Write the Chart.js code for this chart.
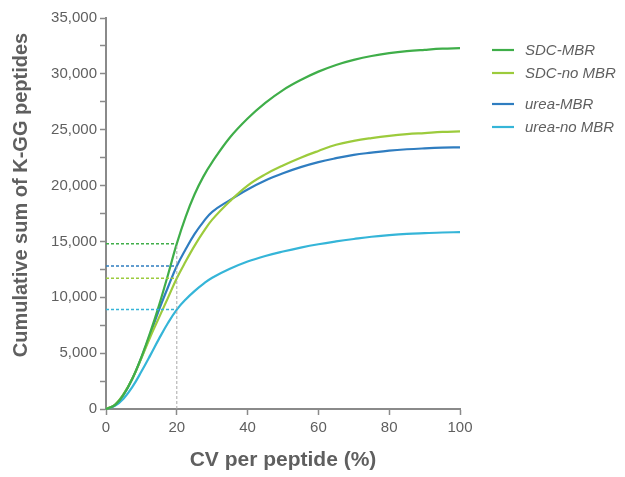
<!DOCTYPE html>
<html>
<head>
<meta charset="utf-8">
<script src="https://cdn.jsdelivr.net/npm/chart.js@4"></script>
<style>
  html, body { margin: 0; padding: 0; background: #fff; }
  #wrap { width: 625px; height: 477px; }
</style>
</head>
<body>
<div id="wrap"><canvas id="cv"></canvas></div>
<script>
const cvValues  = [0, 2.5, 5, 7.5, 10, 12.5, 15, 17.5, 20, 22.5, 25, 27.5, 30, 35, 40, 45, 50, 55, 60, 65, 70, 75, 80, 85, 90, 95, 100];
const sdcMbr    = [0, 350, 1300, 2750, 4650, 6850, 9300, 12000, 14800, 17200, 19200, 20800, 22100, 24300, 26000, 27400, 28550, 29450, 30200, 30800, 31250, 31600, 31850, 32030, 32150, 32250, 32300];
const sdcNoMbr  = [0, 380, 1350, 2750, 4550, 6450, 8200, 9950, 11700, 13200, 14600, 15850, 16950, 18600, 20000, 21000, 21800, 22500, 23100, 23650, 24000, 24250, 24450, 24600, 24700, 24800, 24850];
const ureaMbr   = [0, 350, 1300, 2750, 4600, 6700, 8900, 10900, 12800, 14300, 15650, 16750, 17650, 18700, 19650, 20450, 21100, 21650, 22100, 22450, 22750, 22950, 23130, 23250, 23330, 23390, 23420];
const ureaNoMbr = [0, 280, 950, 2000, 3350, 4800, 6300, 7700, 8900, 9800, 10550, 11200, 11750, 12550, 13200, 13700, 14100, 14450, 14750, 15000, 15220, 15420, 15560, 15670, 15740, 15800, 15830];
const seriesNames = ['SDC-MBR', 'SDC-no MBR', 'urea-MBR', 'urea-no MBR'];
const markCV = 20;

const colors = ['#3fae49', '#9ccb3c', '#2f7dc0', '#35b5d8'];
const allSeries = [sdcMbr, sdcNoMbr, ureaMbr, ureaNoMbr];
const markIdx = cvValues.indexOf(markCV);
const FONT = '"Liberation Sans", Arial, sans-serif';
const GREY = '#5f5f5f';
const AXIS = '#8a8a8a';

const datasets = [];
// dashed guide lines at CV = 20 %
allSeries.forEach(function (s, i) {
  datasets.push({
    data: [{ x: 0, y: s[markIdx] }, { x: markCV, y: s[markIdx] }],
    borderColor: colors[i],
    borderWidth: 1.5,
    borderDash: [3, 2],
    pointRadius: 0
  });
});
datasets.push({
  data: [{ x: markCV, y: 0 }, { x: markCV, y: Math.max.apply(null, allSeries.map(s => s[markIdx])) }],
  borderColor: '#a8a8a8',
  borderWidth: 1,
  borderDash: [3, 2],
  pointRadius: 0
});
allSeries.forEach(function (s, i) {
  datasets.push({
    label: seriesNames[i],
    data: cvValues.map((x, j) => ({ x: x, y: s[j] })),
    borderColor: colors[i],
    borderWidth: 2.2,
    pointRadius: 0,
    tension: 0.4,
    clip: false
  });
});

// legend on the right + rotated y title
const extrasPlugin = {
  id: 'extras',
  afterDraw(chart) {
    const ctx = chart.ctx;
    const rows = [50, 73, 104, 127];
    ctx.save();
    ctx.font = 'italic 15px ' + FONT;
    ctx.textBaseline = 'middle';
    seriesNames.forEach(function (name, i) {
      ctx.strokeStyle = colors[i];
      ctx.lineWidth = 2.2;
      ctx.beginPath();
      ctx.moveTo(492, rows[i]);
      ctx.lineTo(514, rows[i]);
      ctx.stroke();
      ctx.fillStyle = GREY;
      ctx.fillText(name, 525, rows[i] + 1);
    });
    ctx.translate(21, 195);
    ctx.rotate(-Math.PI / 2);
    ctx.font = 'bold 20px ' + FONT;
    ctx.textAlign = 'center';
    ctx.fillText('Cumulative sum of K-GG peptides', 0, 0);
    ctx.restore();
  }
};

new Chart(document.getElementById('cv').getContext('2d'), {
  type: 'line',
  data: { datasets: datasets },
  plugins: [extrasPlugin],
  options: {
    responsive: true,
    maintainAspectRatio: false,
    animation: false,
    layout: { padding: { top: 18, right: 165, left: 0, bottom: 0 } },
    plugins: { legend: { display: false }, tooltip: { enabled: false } },
    scales: {
      x: {
        type: 'linear',
        min: 0,
        max: 100,
        afterFit(scale) { scale.height = 68; },
        ticks: { stepSize: 20, color: GREY, font: { family: FONT, size: 15 }, padding: 4, maxRotation: 0 },
        grid: { drawOnChartArea: false, drawTicks: true, tickLength: 6, tickColor: AXIS, tickWidth: 1.5 },
        border: { color: AXIS, width: 2 },
        title: { display: true, text: 'CV per peptide (%)', color: GREY, font: { family: FONT, size: 21, weight: 'bold' }, padding: { top: 8 } }
      },
      y: {
        min: 0,
        max: 35000,
        afterFit(scale) { scale.width = 106; },
        ticks: {
          stepSize: 2500,
          color: GREY,
          font: { family: FONT, size: 15 },
          padding: 3,
          autoSkip: false,
          callback: v => (v % 5000 === 0 ? v.toLocaleString('en-US') : '')
        },
        grid: { drawOnChartArea: false, drawTicks: true, tickLength: 6, tickColor: AXIS, tickWidth: 1.5 },
        border: { color: AXIS, width: 2 },
        title: { display: false }
      }
    }
  }
});
</script>
</body>
</html>
